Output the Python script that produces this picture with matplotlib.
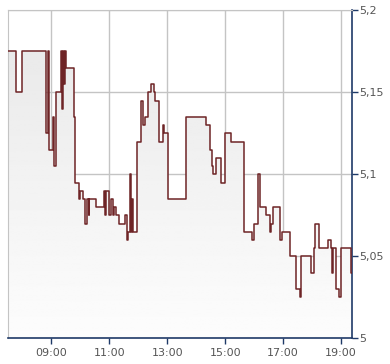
import numpy as np
import matplotlib
matplotlib.use("Agg")
import matplotlib.pyplot as plt

# kurs verisi (saat, fiyat) - adim grafigi
zaman = ["07:31", "07:46", "08:00", "08:48", "08:54", "08:56", "09:04", "09:06", "09:10",
         "09:21", "09:23", "09:25", "09:26", "09:29", "09:31", "09:46", "09:50", "09:57",
         "10:00", "10:05", "10:10", "10:14", "10:17", "10:19", "10:32", "10:50", "10:51",
         "10:53", "11:00", "11:03", "11:07", "11:09", "11:14", "11:21", "11:32", "11:36",
         "11:39", "11:43", "11:45", "11:47", "11:50", "11:58", "12:06", "12:10", "12:13",
         "12:20", "12:27", "12:33", "12:35", "12:43", "12:52", "12:54", "13:02", "13:39",
         "14:21", "14:28", "14:32", "14:35", "14:41", "14:51", "15:00", "15:12", "15:39",
         "15:55", "15:59", "16:08", "16:12", "16:24", "16:32", "16:35", "16:38", "16:54",
         "16:57", "17:14", "17:27", "17:34", "17:37", "17:57", "18:04", "18:05", "18:14",
         "18:32", "18:39", "18:42", "18:44", "18:49", "18:56", "18:59", "19:20", "19:22"]
fiyat = [5.175, 5.15, 5.175, 5.125, 5.175, 5.115, 5.135, 5.105, 5.15,
         5.175, 5.14, 5.175, 5.155, 5.175, 5.165, 5.135, 5.095, 5.085,
         5.09, 5.085, 5.07, 5.085, 5.075, 5.085, 5.08, 5.09, 5.075,
         5.09, 5.075, 5.085, 5.075, 5.08, 5.075, 5.07, 5.075, 5.06,
         5.065, 5.1, 5.065, 5.085, 5.065, 5.12, 5.145, 5.13, 5.135,
         5.15, 5.155, 5.15, 5.145, 5.12, 5.13, 5.125, 5.085, 5.135,
         5.13, 5.115, 5.105, 5.1, 5.11, 5.095, 5.125, 5.12, 5.065,
         5.06, 5.07, 5.1, 5.08, 5.075, 5.065, 5.07, 5.08, 5.06,
         5.065, 5.05, 5.03, 5.025, 5.05, 5.04, 5.055, 5.07, 5.055,
         5.06, 5.055, 5.04, 5.055, 5.03, 5.025, 5.055, 5.04, 5.04]

x_etiket = ["09:00", "11:00", "13:00", "15:00", "17:00", "19:00"]
y_deger = [5, 5.05, 5.1, 5.15, 5.2]
y_etiket = ["5", "5,05", "5,1", "5,15", "5,2"]

def saat(s):
    h, m = s.split(":")
    return int(h) + int(m) / 60.0

t = np.array([saat(s) for s in zaman])
v = np.array(fiyat)
xt = [saat(s) for s in x_etiket]

mavi = "#1f3a68"
gri = "#c4c4c4"

fig = plt.figure(figsize=(3.9, 3.64), dpi=100)
ax = fig.add_axes([0.0213, 0.0706, 0.882, 0.9011])
x0, x1 = saat("07:31"), saat("19:23")
ax.set_xlim(x0, x1)
ax.set_ylim(5.0, 5.2)

# gradyan dolgu
poly = ax.fill_between(t, v, 5.0, step="post", color="none", lw=0)
grad = np.linspace(0.905, 0.99, 256).reshape(-1, 1)
img = ax.imshow(grad, cmap="gray", vmin=0, vmax=1, aspect="auto",
                extent=[x0, x1, 5.0, 5.2], origin="upper", zorder=1)
path = poly.get_paths()[0]
img.set_clip_path(path, transform=ax.transData)

ax.step(t, v, where="post", color="#6e2426", lw=1.1, zorder=3)

ax.set_xticks(xt)
ax.set_xticklabels(x_etiket)
ax.set_yticks(y_deger)
ax.set_yticklabels(y_etiket)
ax.yaxis.tick_right()
ax.grid(True, color=gri, lw=1, zorder=0)
ax.set_axisbelow(True)

for s in ["left", "top"]:
    ax.spines[s].set_color(gri)
for s in ["right", "bottom"]:
    ax.spines[s].set_color(mavi)
    ax.spines[s].set_linewidth(1.2)
ax.tick_params(axis="y", colors=mavi, length=4, width=1, labelcolor="#555555",
               labelsize=8, pad=1)
ax.tick_params(axis="x", colors=mavi, length=4, width=1, labelcolor="#555555",
               labelsize=8, pad=3)

fig.savefig("out.png", dpi=100)
